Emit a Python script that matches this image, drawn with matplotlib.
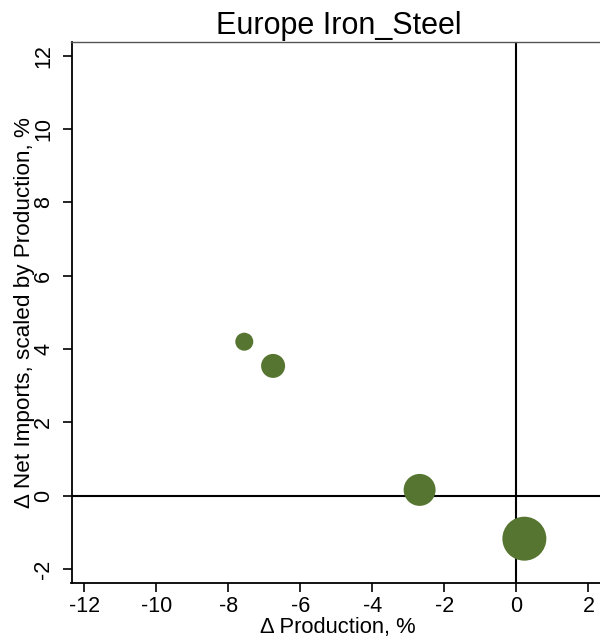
import matplotlib
matplotlib.use("Agg")
import matplotlib.pyplot as plt
import numpy as np

# Change in production vs change in net imports, one bubble per scenario
d_production = [-7.56, -6.76, -2.69, 0.22]
d_net_imports = [4.20, 3.54, 0.16, -1.17]
weight = [81, 144, 256, 484]

x_ticks = [-12, -10, -8, -6, -4, -2, 0, 2]
y_ticks = [-2, 0, 2, 4, 6, 8, 10, 12]

plt.rcParams['font.family'] = ['Liberation Sans', 'DejaVu Sans']

fig = plt.figure(figsize=(6, 6.42), dpi=100)
ax = fig.add_axes([71.5 / 600, (642 - 582.7) / 642, (605 - 71.5) / 600, (582.7 - 42) / 642])

# reference lines at zero
ax.axhline(0, color='black', lw=1.5, zorder=1)
ax.axvline(0, color='black', lw=1.5, zorder=1)

sizes = np.array(weight) * 2.07
ax.scatter(d_production, d_net_imports, s=sizes, color='#567530', edgecolors='none', zorder=3)

ax.set_xlim(-12.36, 2.46)
ax.set_ylim(-2.37, 12.37)
ax.set_xticks(x_ticks)
ax.set_yticks(y_ticks)
ax.set_xticklabels([str(t) for t in x_ticks])
ax.set_yticklabels([str(t) for t in y_ticks], rotation=90, va='center')

ax.tick_params(axis='both', length=6.5, width=1.2, color='black', labelsize=15.5)
ax.tick_params(axis='x', pad=3)
ax.tick_params(axis='y', pad=6)

ax.spines['right'].set_visible(False)
ax.spines['left'].set_linewidth(1.3)
ax.spines['bottom'].set_linewidth(1.3)
ax.spines['top'].set_linewidth(1.0)
ax.spines['top'].set_color('#555555')

ax.set_title('Europe Iron_Steel', fontsize=22, pad=6)
ax.set_xlabel('Δ Production, %', fontsize=15.8, labelpad=0)
ax.set_ylabel('Δ Net Imports, scaled by Production, %', fontsize=16.2)
ax.yaxis.set_label_coords(-0.069, 0.499)

fig.savefig('out.png', dpi=100)
